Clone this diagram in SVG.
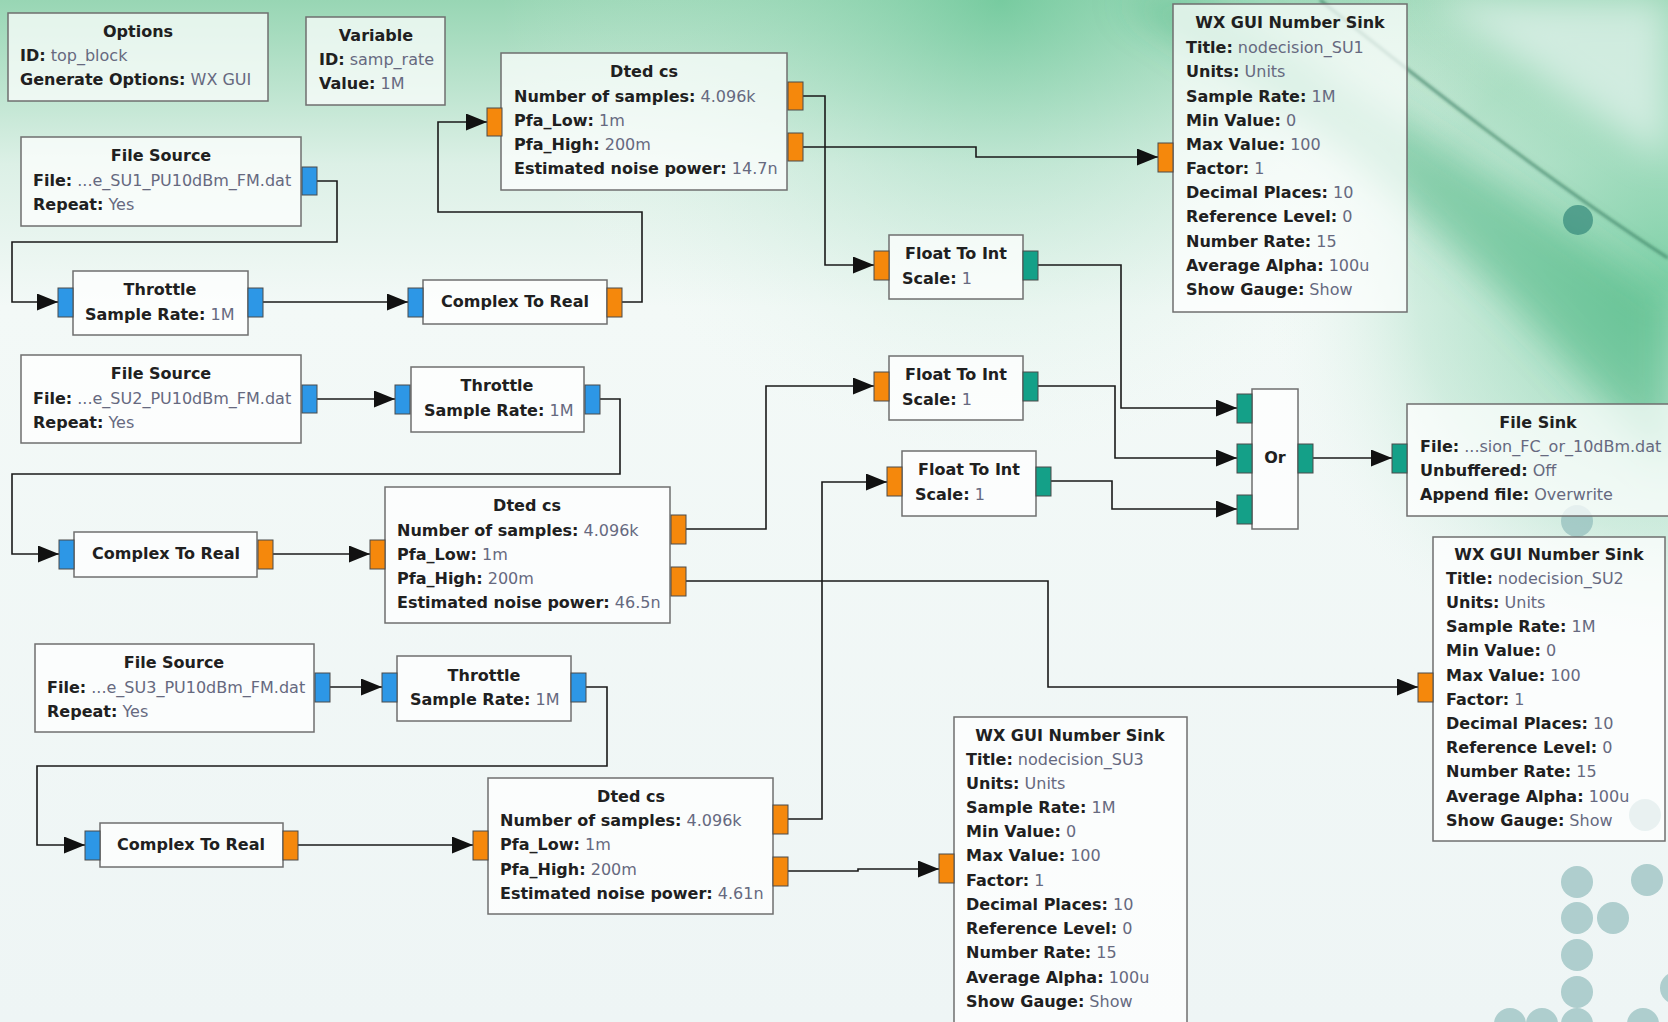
<svg xmlns="http://www.w3.org/2000/svg" width="1668" height="1022" viewBox="0 0 1668 1022">
<defs>
<linearGradient id="bgv" x1="0" y1="0" x2="0" y2="1">
<stop offset="0" stop-color="#98d6b4"/>
<stop offset="0.16" stop-color="#dcf0e6"/>
<stop offset="0.3" stop-color="#f3f9f7"/>
<stop offset="1" stop-color="#eef5f5"/>
</linearGradient>
<radialGradient id="rg" cx="1668" cy="280" r="420" gradientUnits="userSpaceOnUse">
<stop offset="0" stop-color="#4fbf86" stop-opacity="0.7"/>
<stop offset="0.6" stop-color="#7fd0a6" stop-opacity="0.3"/>
<stop offset="1" stop-color="#ffffff" stop-opacity="0"/>
</radialGradient>
<radialGradient id="rg2" cx="1000" cy="0" r="500" gradientUnits="userSpaceOnUse">
<stop offset="0" stop-color="#5cc28f" stop-opacity="0.55"/>
<stop offset="1" stop-color="#ffffff" stop-opacity="0"/>
</radialGradient>
<filter id="blur" x="-20%" y="-20%" width="140%" height="140%"><feGaussianBlur stdDeviation="18"/></filter>
<filter id="blur2"><feGaussianBlur stdDeviation="1.5"/></filter>
<marker id="arr" markerUnits="userSpaceOnUse" markerWidth="21" markerHeight="17" refX="21" refY="8.5" orient="auto">
<path d="M0,0 L21,8.5 L0,17 Z" fill="#111"/>
</marker>
<style>
.box{fill:#ffffff;fill-opacity:0.72;stroke:#6f6f6f;stroke-width:1.5}
.t{font-family:"DejaVu Sans","Liberation Sans",sans-serif;font-size:16px;font-weight:bold;fill:#202020}
.c{text-anchor:middle}
.v{font-weight:normal;fill:#66697f}
.pb{fill:#2d97e6;stroke:#4a4a4a;stroke-width:1}
.po{fill:#f5880c;stroke:#4a4a4a;stroke-width:1}
.pt{fill:#14a088;stroke:#4a4a4a;stroke-width:1}
.wa{fill:none;stroke:#1a1a1a;stroke-width:1.6;marker-end:url(#arr)}
.dot{fill:#8cb9b8;fill-opacity:0.65}
</style>
</defs>

<g id="background">
<rect x="0" y="0" width="1668" height="1022" fill="url(#bgv)"/>
<rect x="0" y="0" width="1668" height="1022" fill="url(#rg2)"/>
<rect x="0" y="0" width="1668" height="1022" fill="url(#rg)"/>
<path d="M1180,0 C1330,60 1480,170 1668,300 L1668,470 C1540,330 1400,170 1120,0 Z" fill="#3aaf75" fill-opacity="0.45" filter="url(#blur)"/>
<path d="M1430,0 C1520,60 1600,120 1668,160 L1668,0 Z" fill="#e6f4ef" fill-opacity="0.7" filter="url(#blur)"/>
<path d="M1320,0 C1420,80 1540,175 1668,258" fill="none" stroke="#2a6e52" stroke-width="3" stroke-opacity="0.6" filter="url(#blur2)"/>
<circle cx="1578" cy="220" r="15" fill="#3a8c7e" fill-opacity="0.75"/>
<circle class="dot" cx="1577" cy="521" r="16"/>
<circle class="dot" cx="1645" cy="815" r="16"/>
<circle class="dot" cx="1577" cy="882" r="16"/>
<circle class="dot" cx="1647" cy="880" r="16"/>
<circle class="dot" cx="1577" cy="918" r="16"/>
<circle class="dot" cx="1613" cy="918" r="16"/>
<circle class="dot" cx="1577" cy="955" r="16"/>
<circle class="dot" cx="1577" cy="992" r="16"/>
<circle class="dot" cx="1510" cy="1024" r="16"/>
<circle class="dot" cx="1542" cy="1024" r="16"/>
<circle class="dot" cx="1577" cy="1024" r="16"/>
<circle class="dot" cx="1643" cy="1024" r="16"/>
<circle class="dot" cx="1676" cy="988" r="16"/>
</g>

<g id="connectors">
<path class="wa" d="M317,181 H337 V242 H12 V302 H58"/>
<path class="wa" d="M263,302 H408"/>
<path class="wa" d="M622,302 H642 V212 H438 V122 H487"/>
<path class="wa" d="M803,96 H825 V265 H874"/>
<path class="wa" d="M803,147 H976 V157 H1158"/>
<path class="wa" d="M1038,265 H1121 V408 H1237"/>
<path class="wa" d="M317,399 H395"/>
<path class="wa" d="M600,399 H620 V474 H12 V554 H59"/>
<path class="wa" d="M273,554 H370"/>
<path class="wa" d="M686,529 H766 V386 H874"/>
<path class="wa" d="M686,581 H1048 V687 H1418"/>
<path class="wa" d="M1038,386 H1115 V458 H1237"/>
<path class="wa" d="M1051,481 H1112 V509 H1237"/>
<path class="wa" d="M1313,458 H1392"/>
<path class="wa" d="M330,687 H382"/>
<path class="wa" d="M586,687 H607 V766 H37 V845 H85"/>
<path class="wa" d="M298,845 H473"/>
<path class="wa" d="M788,819 H822 V482 H887"/>
<path class="wa" d="M788,871 H858 V869 H939"/>
</g>

<g id="options">
<rect class="box" x="8" y="13" width="260" height="88"/>
<text class="t c" x="138" y="37">Options</text>
<text class="t" x="20" y="61">ID:<tspan class="v"> top_block</tspan></text>
<text class="t" x="20" y="85">Generate Options:<tspan class="v"> WX GUI</tspan></text>
</g>

<g id="variable">
<rect class="box" x="306" y="17" width="139" height="88"/>
<text class="t c" x="376" y="41">Variable</text>
<text class="t" x="319" y="65">ID:<tspan class="v"> samp_rate</tspan></text>
<text class="t" x="319" y="89">Value:<tspan class="v"> 1M</tspan></text>
</g>

<g id="file_source_1">
<rect class="box" x="21" y="137" width="280" height="89"/>
<text class="t c" x="161" y="161">File Source</text>
<text class="t" x="33" y="186">File:<tspan class="v"> ...e_SU1_PU10dBm_FM.dat</tspan></text>
<text class="t" x="33" y="210">Repeat:<tspan class="v"> Yes</tspan></text>
<rect class="pb" x="302" y="167" width="15" height="28"/>
</g>

<g id="throttle_1">
<rect class="box" x="73" y="271" width="175" height="64"/>
<text class="t c" x="160" y="295">Throttle</text>
<text class="t" x="85" y="320">Sample Rate:<tspan class="v"> 1M</tspan></text>
<rect class="pb" x="58" y="288" width="15" height="29"/>
<rect class="pb" x="248" y="288" width="15" height="29"/>
</g>

<g id="complex_to_real_1">
<rect class="box" x="423" y="280" width="184" height="44"/>
<text class="t c" x="515" y="307">Complex To Real</text>
<rect class="pb" x="408" y="288" width="15" height="29"/>
<rect class="po" x="607" y="288" width="15" height="29"/>
</g>

<g id="dted_cs_1">
<rect class="box" x="501" y="53" width="286" height="137"/>
<text class="t c" x="644" y="77">Dted cs</text>
<text class="t" x="514" y="102">Number of samples:<tspan class="v"> 4.096k</tspan></text>
<text class="t" x="514" y="126">Pfa_Low:<tspan class="v"> 1m</tspan></text>
<text class="t" x="514" y="150">Pfa_High:<tspan class="v"> 200m</tspan></text>
<text class="t" x="514" y="174">Estimated noise power:<tspan class="v"> 14.7n</tspan></text>
<rect class="po" x="487" y="108" width="15" height="28"/>
<rect class="po" x="788" y="82" width="15" height="28"/>
<rect class="po" x="788" y="133" width="15" height="28"/>
</g>

<g id="wx_number_sink_1">
<rect class="box" x="1173" y="4" width="234" height="308"/>
<text class="t c" x="1290" y="28">WX GUI Number Sink</text>
<text class="t" x="1186" y="53">Title:<tspan class="v"> nodecision_SU1</tspan></text>
<text class="t" x="1186" y="77">Units:<tspan class="v"> Units</tspan></text>
<text class="t" x="1186" y="102">Sample Rate:<tspan class="v"> 1M</tspan></text>
<text class="t" x="1186" y="126">Min Value:<tspan class="v"> 0</tspan></text>
<text class="t" x="1186" y="150">Max Value:<tspan class="v"> 100</tspan></text>
<text class="t" x="1186" y="174">Factor:<tspan class="v"> 1</tspan></text>
<text class="t" x="1186" y="198">Decimal Places:<tspan class="v"> 10</tspan></text>
<text class="t" x="1186" y="222">Reference Level:<tspan class="v"> 0</tspan></text>
<text class="t" x="1186" y="247">Number Rate:<tspan class="v"> 15</tspan></text>
<text class="t" x="1186" y="271">Average Alpha:<tspan class="v"> 100u</tspan></text>
<text class="t" x="1186" y="295">Show Gauge:<tspan class="v"> Show</tspan></text>
<rect class="po" x="1158" y="143" width="15" height="29"/>
</g>

<g id="float_to_int_1">
<rect class="box" x="889" y="235" width="134" height="64"/>
<text class="t c" x="956" y="259">Float To Int</text>
<text class="t" x="902" y="284">Scale:<tspan class="v"> 1</tspan></text>
<rect class="po" x="874" y="251" width="15" height="29"/>
<rect class="pt" x="1023" y="251" width="15" height="29"/>
</g>

<g id="float_to_int_2">
<rect class="box" x="889" y="356" width="134" height="64"/>
<text class="t c" x="956" y="380">Float To Int</text>
<text class="t" x="902" y="405">Scale:<tspan class="v"> 1</tspan></text>
<rect class="po" x="874" y="372" width="15" height="29"/>
<rect class="pt" x="1023" y="372" width="15" height="29"/>
</g>

<g id="float_to_int_3">
<rect class="box" x="902" y="451" width="134" height="65"/>
<text class="t c" x="969" y="475">Float To Int</text>
<text class="t" x="915" y="500">Scale:<tspan class="v"> 1</tspan></text>
<rect class="po" x="887" y="467" width="15" height="29"/>
<rect class="pt" x="1036" y="467" width="15" height="29"/>
</g>

<g id="or">
<rect class="box" x="1252" y="389" width="46" height="140"/>
<text class="t c" x="1275" y="463">Or</text>
<rect class="pt" x="1237" y="394" width="15" height="29"/>
<rect class="pt" x="1237" y="444" width="15" height="29"/>
<rect class="pt" x="1237" y="495" width="15" height="29"/>
<rect class="pt" x="1298" y="444" width="15" height="29"/>
</g>

<g id="file_sink">
<rect class="box" x="1407" y="404" width="266" height="112"/>
<text class="t c" x="1538" y="428">File Sink</text>
<text class="t" x="1420" y="452">File:<tspan class="v"> ...sion_FC_or_10dBm.dat</tspan></text>
<text class="t" x="1420" y="476">Unbuffered:<tspan class="v"> Off</tspan></text>
<text class="t" x="1420" y="500">Append file:<tspan class="v"> Overwrite</tspan></text>
<rect class="pt" x="1392" y="444" width="15" height="29"/>
</g>

<g id="file_source_2">
<rect class="box" x="21" y="355" width="280" height="88"/>
<text class="t c" x="161" y="379">File Source</text>
<text class="t" x="33" y="404">File:<tspan class="v"> ...e_SU2_PU10dBm_FM.dat</tspan></text>
<text class="t" x="33" y="428">Repeat:<tspan class="v"> Yes</tspan></text>
<rect class="pb" x="302" y="385" width="15" height="28"/>
</g>

<g id="throttle_2">
<rect class="box" x="411" y="367" width="173" height="65"/>
<text class="t c" x="497" y="391">Throttle</text>
<text class="t" x="424" y="416">Sample Rate:<tspan class="v"> 1M</tspan></text>
<rect class="pb" x="395" y="385" width="15" height="29"/>
<rect class="pb" x="585" y="385" width="15" height="29"/>
</g>

<g id="complex_to_real_2">
<rect class="box" x="74" y="532" width="183" height="45"/>
<text class="t c" x="166" y="559">Complex To Real</text>
<rect class="pb" x="59" y="540" width="15" height="29"/>
<rect class="po" x="258" y="540" width="15" height="29"/>
</g>

<g id="dted_cs_2">
<rect class="box" x="385" y="487" width="285" height="136"/>
<text class="t c" x="527" y="511">Dted cs</text>
<text class="t" x="397" y="536">Number of samples:<tspan class="v"> 4.096k</tspan></text>
<text class="t" x="397" y="560">Pfa_Low:<tspan class="v"> 1m</tspan></text>
<text class="t" x="397" y="584">Pfa_High:<tspan class="v"> 200m</tspan></text>
<text class="t" x="397" y="608">Estimated noise power:<tspan class="v"> 46.5n</tspan></text>
<rect class="po" x="370" y="540" width="15" height="29"/>
<rect class="po" x="671" y="515" width="15" height="29"/>
<rect class="po" x="671" y="567" width="15" height="29"/>
</g>

<g id="wx_number_sink_2">
<rect class="box" x="1433" y="537" width="232" height="304"/>
<text class="t c" x="1549" y="560">WX GUI Number Sink</text>
<text class="t" x="1446" y="584">Title:<tspan class="v"> nodecision_SU2</tspan></text>
<text class="t" x="1446" y="608">Units:<tspan class="v"> Units</tspan></text>
<text class="t" x="1446" y="632">Sample Rate:<tspan class="v"> 1M</tspan></text>
<text class="t" x="1446" y="656">Min Value:<tspan class="v"> 0</tspan></text>
<text class="t" x="1446" y="681">Max Value:<tspan class="v"> 100</tspan></text>
<text class="t" x="1446" y="705">Factor:<tspan class="v"> 1</tspan></text>
<text class="t" x="1446" y="729">Decimal Places:<tspan class="v"> 10</tspan></text>
<text class="t" x="1446" y="753">Reference Level:<tspan class="v"> 0</tspan></text>
<text class="t" x="1446" y="777">Number Rate:<tspan class="v"> 15</tspan></text>
<text class="t" x="1446" y="802">Average Alpha:<tspan class="v"> 100u</tspan></text>
<text class="t" x="1446" y="826">Show Gauge:<tspan class="v"> Show</tspan></text>
<rect class="po" x="1418" y="673" width="15" height="29"/>
</g>

<g id="file_source_3">
<rect class="box" x="35" y="644" width="279" height="88"/>
<text class="t c" x="174" y="668">File Source</text>
<text class="t" x="47" y="693">File:<tspan class="v"> ...e_SU3_PU10dBm_FM.dat</tspan></text>
<text class="t" x="47" y="717">Repeat:<tspan class="v"> Yes</tspan></text>
<rect class="pb" x="315" y="673" width="15" height="29"/>
</g>

<g id="throttle_3">
<rect class="box" x="397" y="656" width="174" height="65"/>
<text class="t c" x="484" y="681">Throttle</text>
<text class="t" x="410" y="705">Sample Rate:<tspan class="v"> 1M</tspan></text>
<rect class="pb" x="382" y="673" width="15" height="29"/>
<rect class="pb" x="571" y="673" width="15" height="29"/>
</g>

<g id="complex_to_real_3">
<rect class="box" x="100" y="823" width="183" height="44"/>
<text class="t c" x="191" y="850">Complex To Real</text>
<rect class="pb" x="85" y="831" width="15" height="29"/>
<rect class="po" x="283" y="831" width="15" height="29"/>
</g>

<g id="dted_cs_3">
<rect class="box" x="488" y="778" width="285" height="136"/>
<text class="t c" x="631" y="802">Dted cs</text>
<text class="t" x="500" y="826">Number of samples:<tspan class="v"> 4.096k</tspan></text>
<text class="t" x="500" y="850">Pfa_Low:<tspan class="v"> 1m</tspan></text>
<text class="t" x="500" y="875">Pfa_High:<tspan class="v"> 200m</tspan></text>
<text class="t" x="500" y="899">Estimated noise power:<tspan class="v"> 4.61n</tspan></text>
<rect class="po" x="473" y="831" width="15" height="29"/>
<rect class="po" x="773" y="805" width="15" height="29"/>
<rect class="po" x="773" y="857" width="15" height="29"/>
</g>

<g id="wx_number_sink_3">
<rect class="box" x="954" y="717" width="233" height="320"/>
<text class="t c" x="1070" y="741">WX GUI Number Sink</text>
<text class="t" x="966" y="765">Title:<tspan class="v"> nodecision_SU3</tspan></text>
<text class="t" x="966" y="789">Units:<tspan class="v"> Units</tspan></text>
<text class="t" x="966" y="813">Sample Rate:<tspan class="v"> 1M</tspan></text>
<text class="t" x="966" y="837">Min Value:<tspan class="v"> 0</tspan></text>
<text class="t" x="966" y="861">Max Value:<tspan class="v"> 100</tspan></text>
<text class="t" x="966" y="886">Factor:<tspan class="v"> 1</tspan></text>
<text class="t" x="966" y="910">Decimal Places:<tspan class="v"> 10</tspan></text>
<text class="t" x="966" y="934">Reference Level:<tspan class="v"> 0</tspan></text>
<text class="t" x="966" y="958">Number Rate:<tspan class="v"> 15</tspan></text>
<text class="t" x="966" y="983">Average Alpha:<tspan class="v"> 100u</tspan></text>
<text class="t" x="966" y="1007">Show Gauge:<tspan class="v"> Show</tspan></text>
<rect class="po" x="939" y="854" width="15" height="29"/>
</g>
</svg>
